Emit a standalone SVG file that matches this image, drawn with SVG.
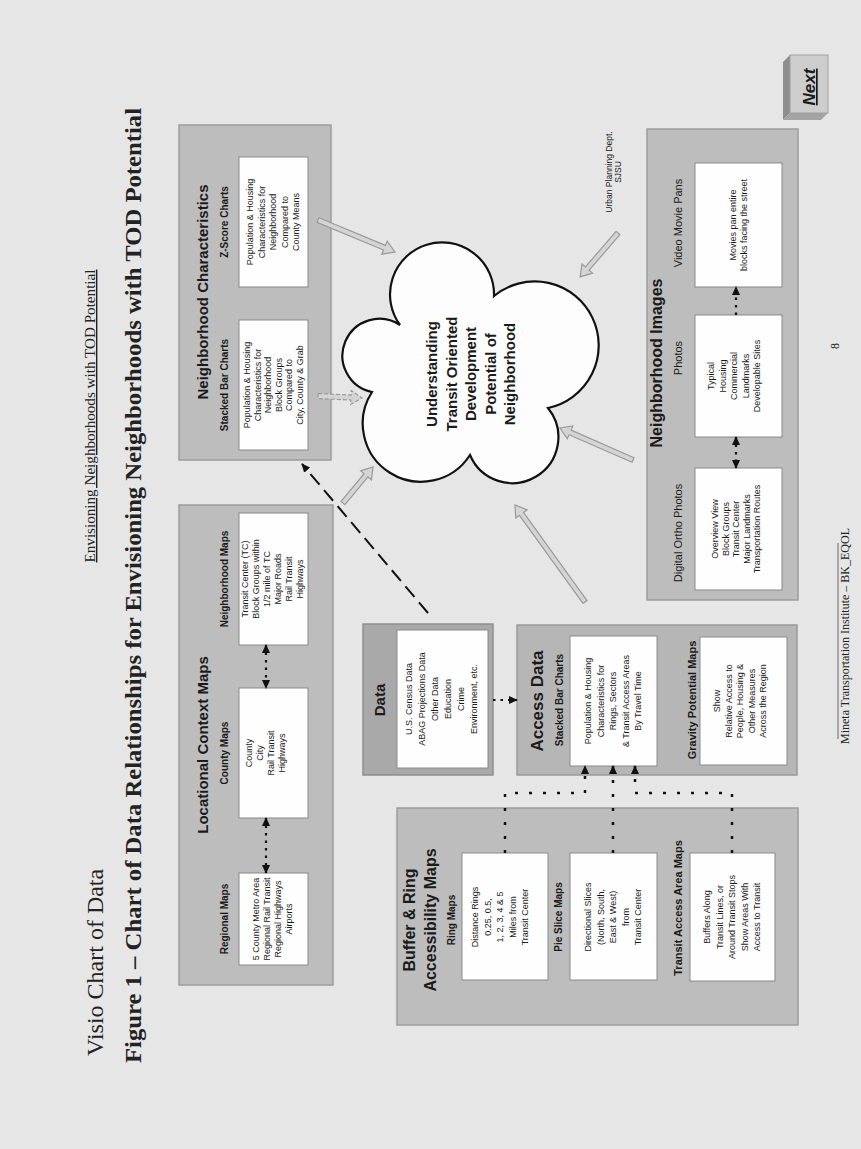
<svg xmlns="http://www.w3.org/2000/svg" width="861" height="1149" viewBox="0 0 861 1149">
<defs>
<style>
.t{font-family:"Liberation Sans",Arial,sans-serif;text-anchor:middle;fill:#1a1a1a}
.s{font-family:"Liberation Serif","Times New Roman",serif;fill:#222}
.bx{font-size:9px}
.sub{font-size:10px;font-weight:bold}
.sub2{font-size:11px}
.ttl{font-size:15px;font-weight:bold}
.panel{fill:#bdbdbd;stroke:#9c9c9c;stroke-width:1.5}
.box{fill:#fefefe;stroke:#8a8a8a;stroke-width:1}
.dot{fill:none;stroke:#111;stroke-width:2.2;stroke-dasharray:2.5 5}
.dot2{fill:none;stroke:#111;stroke-width:2.5;stroke-dasharray:3 11}
.big{fill:#d4d4d4;stroke:#9a9a9a;stroke-width:1.2}
</style>
<marker id="ah" viewBox="0 0 10 10" refX="9" refY="5" markerWidth="9" markerHeight="9" markerUnits="userSpaceOnUse" orient="auto-start-reverse"><path d="M0,0.5 L10,5 L0,9.5 z" fill="#111"/></marker>
</defs>
<rect x="0" y="0" width="861" height="1149" fill="#e6e6e6"/>

<g id="header" transform="rotate(-90)">
<text class="s" x="-416" y="95" font-size="14" text-anchor="middle" text-decoration="underline" textLength="293" lengthAdjust="spacingAndGlyphs">Envisioning Neighborhoods with TOD Potential</text>
<text class="s" x="-1056" y="103" font-size="24">Visio Chart of Data</text>
<text class="s" x="-1063" y="141" font-size="24" font-weight="bold" textLength="955" lengthAdjust="spacingAndGlyphs">Figure 1 – Chart of Data Relationships for Envisioning Neighborhoods with TOD Potential</text>
</g>

<g id="footer">
<line x1="838" y1="543" x2="838" y2="739" stroke="#666" stroke-width="1"/>
<g transform="rotate(-90)">
<text class="s" x="-636" y="849" font-size="12" text-anchor="middle">Mineta Transportation Institute – BK_EQOL</text>
<text class="s" x="-346" y="839" font-size="12" text-anchor="middle">8</text>
</g>
</g>

<g id="next">
<polygon points="783,62 790,55 790,113 783,120" fill="#8e8e8e"/>
<polygon points="783,120 790,113 828,113 821,120" fill="#a4a4a4"/>
<rect x="790" y="55" width="38" height="58" fill="#cdcdcd" stroke="#a0a0a0"/>
<g transform="rotate(-90)"><text class="t" x="-87" y="815" font-size="17" font-weight="bold" font-style="italic" text-decoration="underline">Next</text></g>
</g>

<g id="neighborhood-characteristics">
<rect class="panel" x="179" y="125" width="152" height="335"/>
<rect class="box" x="239" y="320" width="69" height="130"/>
<rect class="box" x="239" y="157" width="69" height="130"/>
<g transform="rotate(-90)">
<text class="t ttl" x="-292" y="208">Neighborhood Characteristics</text>
<text class="t sub" x="-385" y="227.5">Stacked Bar Charts</text>
<text class="t sub" x="-222" y="227.5">Z-Score Charts</text>
<text class="t bx" x="-385" y="250"><tspan x="-385" dy="0">Population &amp; Housing</tspan><tspan x="-385" dy="10.5">Characteristics for</tspan><tspan x="-385" dy="10.5">Neighborhood</tspan><tspan x="-385" dy="10.5">Block Groups</tspan><tspan x="-385" dy="10.5">Compared to</tspan><tspan x="-385" dy="10.5">City, County &amp; Grab</tspan></text>
<text class="t bx" x="-222" y="253"><tspan x="-222" dy="0">Population &amp; Housing</tspan><tspan x="-222" dy="11.5">Characteristics for</tspan><tspan x="-222" dy="11.5">Neighborhood</tspan><tspan x="-222" dy="11.5">Compared to</tspan><tspan x="-222" dy="11.5">County Means</tspan></text>
</g>
</g>

<g id="locational-context">
<rect class="panel" x="179" y="505" width="154" height="480"/>
<rect class="box" x="239" y="513" width="69" height="132"/>
<rect class="box" x="239" y="688" width="69" height="130"/>
<rect class="box" x="239" y="873" width="69" height="92"/>
<g transform="rotate(-90)">
<text class="t ttl" x="-745" y="208">Locational Context Maps</text>
<text class="t sub" x="-919" y="227.5">Regional Maps</text>
<text class="t sub" x="-753" y="227.5">County Maps</text>
<text class="t sub" x="-579" y="227.5">Neighborhood Maps</text>
<text class="t bx" x="-579" y="248"><tspan x="-579" dy="0">Transit Center (TC)</tspan><tspan x="-579" dy="11">Block Groups within</tspan><tspan x="-579" dy="11">1/2 mile of TC</tspan><tspan x="-579" dy="11">Major Roads</tspan><tspan x="-579" dy="11">Rail Transit</tspan><tspan x="-579" dy="11">Highways</tspan></text>
<text class="t bx" x="-753" y="252"><tspan x="-753" dy="0">County</tspan><tspan x="-753" dy="11">City</tspan><tspan x="-753" dy="11">Rail Transit</tspan><tspan x="-753" dy="11">Highways</tspan></text>
<text class="t bx" x="-919" y="259"><tspan x="-919" dy="0">5 County Metro Area</tspan><tspan x="-919" dy="11">Regional Rail Transit</tspan><tspan x="-919" dy="11">Regional Highways</tspan><tspan x="-919" dy="11">Airports</tspan></text>
</g>
</g>

<g id="data">
<rect x="363" y="624" width="130" height="151" fill="#a9a9a9" stroke="#8e8e8e" stroke-width="1.5"/>
<rect class="box" x="397" y="630" width="91" height="138"/>
<g transform="rotate(-90)">
<text class="t ttl" x="-700" y="385">Data</text>
<text class="t bx" x="-699" y="412"><tspan x="-699" dy="0">U.S. Census Data</tspan><tspan x="-699" dy="13">ABAG Projections Data</tspan><tspan x="-699" dy="13">Other Data</tspan><tspan x="-699" dy="13">Education</tspan><tspan x="-699" dy="13">Crime</tspan><tspan x="-699" dy="13">Environment, etc.</tspan></text>
</g>
</g>

<g id="access-data">
<rect x="517" y="625" width="280" height="150" fill="#b6b6b6" stroke="#9a9a9a" stroke-width="1.5"/>
<rect class="box" x="570" y="636" width="87" height="130"/>
<rect class="box" x="700" y="637" width="87" height="128"/>
<g transform="rotate(-90)">
<text class="t" x="-701" y="543" font-size="17" font-weight="bold">Access Data</text>
<text class="t sub" x="-700" y="562.5">Stacked Bar Charts</text>
<text class="t bx" x="-701" y="591"><tspan x="-701" dy="0">Population &amp; Housing</tspan><tspan x="-701" dy="12.5">Characteristics for</tspan><tspan x="-701" dy="12.5">Rings, Sectors</tspan><tspan x="-701" dy="12.5">&amp; Transit Access Areas</tspan><tspan x="-701" dy="12.5">By Travel Time</tspan></text>
<text class="t" x="-700" y="696" font-size="11" font-weight="bold">Gravity Potential Maps</text>
<text class="t bx" x="-701" y="720"><tspan x="-701" dy="0">Show</tspan><tspan x="-701" dy="11.5">Relative Access to</tspan><tspan x="-701" dy="11.5">People, Housing &amp;</tspan><tspan x="-701" dy="11.5">Other Measures</tspan><tspan x="-701" dy="11.5">Across the Region</tspan></text>
</g>
</g>

<g id="neighborhood-images">
<rect class="panel" x="647" y="129" width="151" height="471"/>
<rect class="box" x="695" y="163" width="87" height="124"/>
<rect class="box" x="695" y="315" width="87" height="122"/>
<rect class="box" x="695" y="468" width="87" height="122"/>
<g transform="rotate(-90)">
<text class="t" x="-363" y="662" font-size="16" font-weight="bold">Neighborhood Images</text>
<text class="t sub2" x="-223" y="682">Video Movie Pans</text>
<text class="t sub2" x="-358" y="682">Photos</text>
<text class="t sub2" x="-533" y="682">Digital Ortho Photos</text>
<text class="t bx" x="-225" y="736"><tspan x="-225" dy="0">Movies pan entire</tspan><tspan x="-225" dy="11">blocks facing the street</tspan></text>
<text class="t bx" x="-376" y="714"><tspan x="-376" dy="0">Typical</tspan><tspan x="-376" dy="11.5">Housing</tspan><tspan x="-376" dy="11.5">Commercial</tspan><tspan x="-376" dy="11.5">Landmarks</tspan><tspan x="-376" dy="11.5">Developable Sites</tspan></text>
<text class="t bx" x="-529" y="718"><tspan x="-529" dy="0">Overview View</tspan><tspan x="-529" dy="10.5">Block Groups</tspan><tspan x="-529" dy="10.5">Transit Center</tspan><tspan x="-529" dy="10.5">Major Landmarks</tspan><tspan x="-529" dy="10.5">Transportation Routes</tspan></text>
</g>
</g>

<g id="buffer-ring">
<rect class="panel" x="397" y="808" width="401" height="217"/>
<rect class="box" x="462" y="853" width="86" height="127"/>
<rect class="box" x="570" y="853" width="87" height="127"/>
<rect class="box" x="690" y="853" width="85" height="128"/>
<g transform="rotate(-90)">
<text class="t" x="-920" y="415" font-size="16" font-weight="bold"><tspan x="-920" dy="0">Buffer &amp; Ring</tspan><tspan x="-920" dy="21">Accessibility  Maps</tspan></text>
<text class="t sub" x="-920" y="454.5">Ring Maps</text>
<text class="t bx" x="-917" y="478"><tspan x="-917" dy="0">Distance Rings</tspan><tspan x="-917" dy="12.5">0.25, 0.5,</tspan><tspan x="-917" dy="12.5">1, 2, 3, 4 &amp; 5</tspan><tspan x="-917" dy="12.5">Miles from</tspan><tspan x="-917" dy="12.5">Transit Center</tspan></text>
<text class="t sub" x="-917" y="561.5">Pie Slice Maps</text>
<text class="t bx" x="-917" y="591"><tspan x="-917" dy="0">Directional Slices</tspan><tspan x="-917" dy="12.5">(North, South,</tspan><tspan x="-917" dy="12.5">East &amp; West)</tspan><tspan x="-917" dy="12.5">from</tspan><tspan x="-917" dy="12.5">Transit Center</tspan></text>
<text class="t" x="-908" y="682" font-size="11" font-weight="bold">Transit Access Area Maps</text>
<text class="t bx" x="-917" y="710"><tspan x="-917" dy="0">Buffers Along</tspan><tspan x="-917" dy="12.5">Transit Lines, or</tspan><tspan x="-917" dy="12.5">Around Transit Stops</tspan><tspan x="-917" dy="12.5">Show Areas With</tspan><tspan x="-917" dy="12.5">Access to Transit</tspan></text>
</g>
</g>

<g id="tod-cloud">
<path d="M400,325 A52,52 0 1 1 494,296 A64,64 0 1 1 548,408 A46,46 0 1 1 470,455 A58,58 0 1 1 372,392 A37,37 0 1 1 400,325 Z" fill="#fdfdfd" stroke="#111" stroke-width="2.2"/>
<g transform="rotate(-90)">
<text class="t" x="-374" y="437" font-size="15" font-weight="bold"><tspan x="-374" dy="0">Understanding</tspan><tspan x="-374" dy="19.5">Transit Oriented</tspan><tspan x="-374" dy="19.5">Development</tspan><tspan x="-374" dy="19.5">Potential of</tspan><tspan x="-374" dy="19.5">Neighborhood</tspan></text>
</g>
</g>

<g id="urban-planning-label" transform="rotate(-90)">
<text class="t" x="-172" y="612" font-size="8.5"><tspan x="-172" dy="0">Urban Planning Dept.</tspan><tspan x="-172" dy="9">SJSU</tspan></text>
</g>

<g id="connectors">
<path class="big" transform="translate(318 220) rotate(22.6)" d="M0,-2.5 H72 V-7 L83.4,0 L72,7 V2.5 H0 Z"/>
<path class="big" transform="translate(318 396) rotate(2.6)" d="M0,-2.5 H33 V-7 L44,0 L33,7 V2.5 H0 Z" stroke-dasharray="4 2"/>
<path class="big" transform="translate(343 503) rotate(-50.2)" d="M0,-2.5 H36 V-7 L47,0 L36,7 V2.5 H0 Z"/>
<path class="big" transform="translate(585 602) rotate(-125.8)" d="M0,-2.5 H108.6 V-7 L119.6,0 L108.6,7 V2.5 H0 Z"/>
<path class="big" transform="translate(633 460) rotate(-156.3)" d="M0,-2.5 H68.7 V-7 L79.7,0 L68.7,7 V2.5 H0 Z"/>
<path class="big" transform="translate(618 233) rotate(130.8)" d="M0,-2.5 H47 V-7 L58,0 L47,7 V2.5 H0 Z"/>
<line x1="428" y1="613" x2="302" y2="464" stroke="#111" stroke-width="2" stroke-dasharray="14 7" marker-end="url(#ah)"/>
<line class="dot" x1="266" y1="645" x2="266" y2="688" marker-start="url(#ah)" marker-end="url(#ah)"/>
<line class="dot" x1="266" y1="818" x2="266" y2="873" marker-start="url(#ah)" marker-end="url(#ah)"/>
<line class="dot" x1="736" y1="315" x2="736" y2="287" marker-end="url(#ah)"/>
<line class="dot" x1="736" y1="437" x2="736" y2="468" marker-start="url(#ah)" marker-end="url(#ah)"/>
<line class="dot" x1="493" y1="700" x2="517" y2="700" marker-end="url(#ah)"/>
<polyline class="dot2" points="505,853 505,793 585,793 585,766" marker-end="url(#ah)"/>
<line class="dot2" x1="613" y1="853" x2="613" y2="766" marker-end="url(#ah)"/>
<polyline class="dot2" points="732,853 732,793 635,793 635,766" marker-end="url(#ah)"/>
</g>
</svg>
